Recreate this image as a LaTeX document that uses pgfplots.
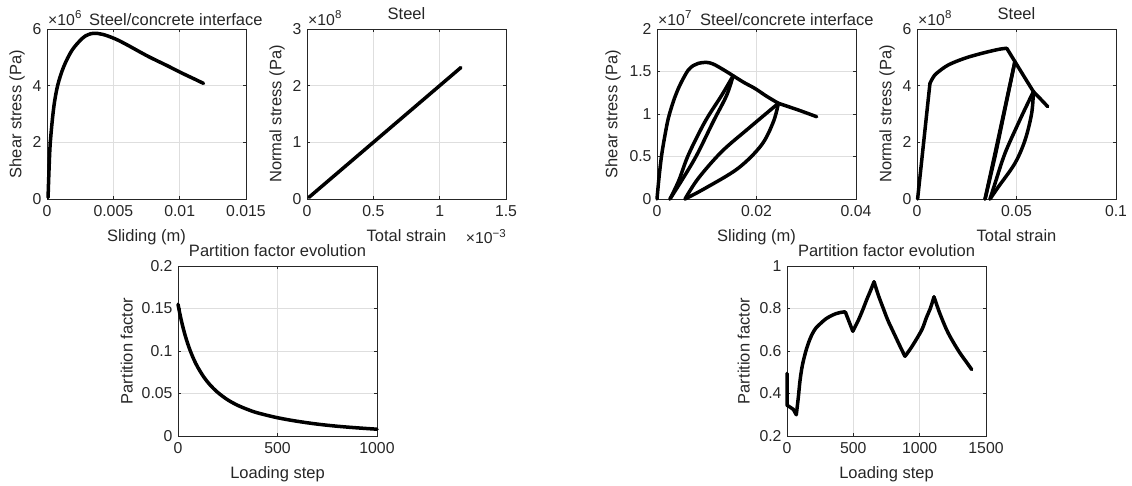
\documentclass[border=0pt]{standalone}
\usepackage{fontspec}
\setmainfont{Liberation Sans}
\usepackage{pgfplots}
\pgfplotsset{compat=1.18}
\definecolor{axgray}{rgb}{0.15,0.15,0.15}
\definecolor{gridgray}{rgb}{0.87,0.87,0.87}
\newcommand{\tickfont}{\fontsize{15.8}{18}\selectfont}
\newcommand{\labfont}{\fontsize{16.5}{19}\selectfont}
\newcommand{\expsup}[1]{\raisebox{0.42em}{\fontsize{11.5}{12}\selectfont #1}}
\pgfplotsset{
  mstyle/.style={
    width=199pt, height=170pt, scale only axis, clip=false,
    scaled x ticks=false, scaled y ticks=false,
    axis line style={axgray, line width=0.6pt},
    tick style={axgray, line width=0.6pt},
    major tick length=3pt,
    tick align=inside,
    grid=major,
    major grid style={gridgray, line width=0.6pt},
    tick label style={font=\tickfont, text=axgray},
    xticklabel style={yshift=-3pt},
    yticklabel style={xshift=-2pt},
    xlabel style={at={([yshift=-30pt]axis description cs:0.5,0)}, anchor=north, inner sep=0pt, font=\labfont, text=axgray},
    title style={font=\labfont, text=axgray},
  },
  ml/.style={black, line width=3.5pt, line join=round, line cap=round, mark=none},
  ms/.style={ml, smooth, tension=0.55},
  ylab/.style={ylabel style={at={([xshift=-#1]axis description cs:0,0.5)}, anchor=south, inner sep=0pt, font=\labfont, text=axgray}},
}
\newcommand{\expo}[1]{\node[anchor=base west, inner sep=0pt, text=axgray, font=\tickfont] at ([xshift=1pt,yshift=4pt]rel axis cs:0,1) {×10\expsup{#1}};}
\begin{document}
\begin{tikzpicture}
\useasboundingbox (0,0) rectangle (1132pt,-485pt);
% ---------- Axis 1
\begin{axis}[mstyle, ylab=22pt, at={(47pt,-199pt)}, anchor=south west,
  xmin=0, xmax=0.015, ymin=0, ymax=6,
  xtick={0,0.005,0.01,0.015}, xticklabels={0,0.005,0.01,0.015},
  ytick={0,2,4,6}, yticklabels={0,2,4,6},
  xlabel={Sliding (m)}, ylabel={Shear stress (Pa)}]
\addplot[ms] coordinates {(0.00008,0.05) (0.00015,1.0) (0.00025,2.0) (0.0005,3.2) (0.0008,4.0) (0.00126,4.67) (0.0019,5.26) (0.00266,5.67) (0.0031,5.8) (0.00354,5.85) (0.0042,5.81) (0.0051,5.66) (0.006,5.45) (0.0076,5.04) (0.009,4.72) (0.0101,4.46) (0.011,4.26) (0.0118,4.08)};
\expo{6}
\node[anchor=base west, inner sep=0pt, text=axgray, font=\labfont] at ([xshift=42pt,yshift=4pt]rel axis cs:0,1) {Steel/concrete interface};
\end{axis}
% ---------- Axis 2
\begin{axis}[mstyle, ylab=22pt, at={(307pt,-199pt)}, anchor=south west,
  xmin=0, xmax=1.5, ymin=0, ymax=3,
  xtick={0,0.5,1,1.5}, xticklabels={0,0.5,1,1.5},
  ytick={0,1,2,3}, yticklabels={0,1,2,3},
  xlabel={Total strain}, ylabel={Normal stress (Pa)},
  title={Steel}, title style={at={([yshift=4pt]axis description cs:0.5,1)}, anchor=base, inner sep=0pt}]
\addplot[ml] coordinates {(0.015,0.03) (0.5,1.0) (1.0,2.0) (1.16,2.32)};
\expo{8}
\node[anchor=north east, inner sep=0pt, text=axgray, font=\tickfont] at ([yshift=-30pt]rel axis cs:1,0) {×10\expsup{−3}};
\end{axis}
% ---------- Axis 3
\begin{axis}[mstyle, ylab=36pt, at={(657pt,-199pt)}, anchor=south west,
  xmin=0, xmax=0.04, ymin=0, ymax=2,
  xtick={0,0.02,0.04}, xticklabels={0,0.02,0.04},
  ytick={0,0.5,1,1.5,2}, yticklabels={0,0.5,1,1.5,2},
  xlabel={Sliding (m)}, ylabel={Shear stress (Pa)}]
% envelope to first unloading
\addplot[ms] coordinates {(0,0) (0.0004,0.25) (0.00094,0.52) (0.0016,0.75) (0.00228,0.95) (0.0033,1.15) (0.00429,1.30) (0.0053,1.42) (0.0063,1.518) (0.0073,1.57) (0.0083,1.596) (0.0099,1.608) (0.0112,1.59) (0.0123,1.557) (0.0138,1.505) (0.0153,1.45)};
% unloading 1
\addplot[ms] coordinates {(0.0153,1.45) (0.014,1.22) (0.0113,0.91) (0.0080,0.518) (0.0052,0.24) (0.00261,0)};
% reloading 1
\addplot[ms] coordinates {(0.00261,0) (0.0044,0.22) (0.0063,0.518) (0.00965,0.91) (0.013,1.22) (0.0153,1.45)};
% envelope
\addplot[ms] coordinates {(0.0153,1.45) (0.0175,1.37) (0.0197,1.30) (0.022,1.21) (0.0244,1.126)};
% unloading 2
\addplot[ms] coordinates {(0.0244,1.126) (0.0234,0.91) (0.021,0.635) (0.0163,0.361) (0.00965,0.125) (0.00563,0)};
% reloading 2
\addplot[ms] coordinates {(0.00563,0) (0.0083,0.243) (0.013,0.557) (0.0184,0.831) (0.0244,1.126)};
% envelope
\addplot[ms] coordinates {(0.0244,1.126) (0.0284,1.047) (0.0321,0.968)};
\expo{7}
\node[anchor=base west, inner sep=0pt, text=axgray, font=\labfont] at ([xshift=43pt,yshift=4pt]rel axis cs:0,1) {Steel/concrete interface};
\end{axis}
% ---------- Axis 4
\begin{axis}[mstyle, ylab=22pt, at={(917pt,-199pt)}, anchor=south west,
  xmin=0, xmax=0.1, ymin=0, ymax=6,
  xtick={0,0.05,0.1}, xticklabels={0,0.05,0.1},
  ytick={0,2,4,6}, yticklabels={0,2,4,6},
  xlabel={Total strain}, ylabel={Normal stress (Pa)},
  title={Steel}, title style={at={([yshift=4pt]axis description cs:0.5,1)}, anchor=base, inner sep=0pt}]
\addplot[ml] coordinates {(0.0003,0) (0.0065,4.08)};
\addplot[ms] coordinates {(0.0065,4.08) (0.0080,4.28) (0.0099,4.44) (0.0157,4.73) (0.0241,4.97) (0.0325,5.14) (0.0409,5.28) (0.0451,5.32)};
\addplot[ml] coordinates {(0.0451,5.32) (0.0492,4.85) (0.0417,2.42) (0.0342,0)};
\addplot[ms] coordinates {(0.0342,0) (0.0392,1.5) (0.0434,2.9) (0.0492,4.85)};
\addplot[ms] coordinates {(0.0492,4.85) (0.054,4.3) (0.0585,3.79)};
\addplot[ms] coordinates {(0.0585,3.79) (0.056,3.43) (0.0509,2.67) (0.0442,1.61) (0.0392,0.55) (0.0367,0)};
\addplot[ms] coordinates {(0.0367,0) (0.0409,0.43) (0.0492,1.26) (0.0543,2.08) (0.0576,3.02) (0.0585,3.79)};
\addplot[ms] coordinates {(0.0585,3.79) (0.0618,3.55) (0.0657,3.26)};
\expo{8}
\end{axis}
% ---------- Axis 5
\begin{axis}[mstyle, ylab=45pt, at={(178pt,-436pt)}, anchor=south west,
  xmin=0, xmax=1000, ymin=0, ymax=0.2,
  xtick={0,500,1000}, xticklabels={0,500,1000},
  ytick={0,0.05,0.1,0.15,0.2}, yticklabels={0,0.05,0.1,0.15,0.2},
  xlabel={Loading step}, ylabel={Partition factor},
  title={Partition factor evolution}, title style={at={([yshift=4pt]axis description cs:0.5,1)}, anchor=base, inner sep=0pt}]
\addplot[ms] coordinates {(0,0.155) (10,0.1431) (20,0.1327) (30,0.1234) (45,0.1114) (62,0.100) (80,0.0899) (100,0.0806) (130,0.0693) (160,0.0604) (200,0.0512) (250,0.0425) (300,0.0361) (350,0.0312) (400,0.0272) (500,0.0215) (600,0.0173) (700,0.0140) (800,0.0115) (900,0.0096) (1000,0.0080)};
\end{axis}
% ---------- Axis 6
\begin{axis}[mstyle, ylab=37pt, at={(787pt,-436pt)}, anchor=south west,
  xmin=0, xmax=1500, ymin=0.2, ymax=1,
  xtick={0,500,1000,1500}, xticklabels={0,500,1000,1500},
  ytick={0.2,0.4,0.6,0.8,1}, yticklabels={0.2,0.4,0.6,0.8,1},
  xlabel={Loading step}, ylabel={Partition factor},
  title={Partition factor evolution}, title style={at={([yshift=4pt]axis description cs:0.5,1)}, anchor=base, inner sep=0pt}]
\addplot[ml] coordinates {(0,0.495) (0,0.345) (25,0.335) (48,0.325) (70,0.30)};
\addplot[ms] coordinates {(70,0.30) (85,0.38) (98,0.46) (115,0.53) (138,0.59) (160,0.635) (190,0.68) (220,0.71) (250,0.728) (290,0.75) (330,0.765) (370,0.776) (400,0.781) (430,0.784) (440,0.783)};
\addplot[ml] coordinates {(440,0.783) (496,0.693)};
\addplot[ms] coordinates {(496,0.693) (538,0.745) (575,0.80) (601,0.842) (630,0.885) (656,0.926)};
\addplot[ms] coordinates {(656,0.926) (690,0.86) (726,0.80) (760,0.745) (801,0.69) (850,0.625) (889,0.575)};
\addplot[ms] coordinates {(889,0.575) (930,0.61) (977,0.657) (1020,0.705) (1052,0.759) (1080,0.80) (1108,0.855)};
\addplot[ms] coordinates {(1108,0.855) (1150,0.78) (1203,0.70) (1250,0.645) (1304,0.59) (1350,0.55) (1392,0.513)};
\end{axis}
\end{tikzpicture}
\end{document}
